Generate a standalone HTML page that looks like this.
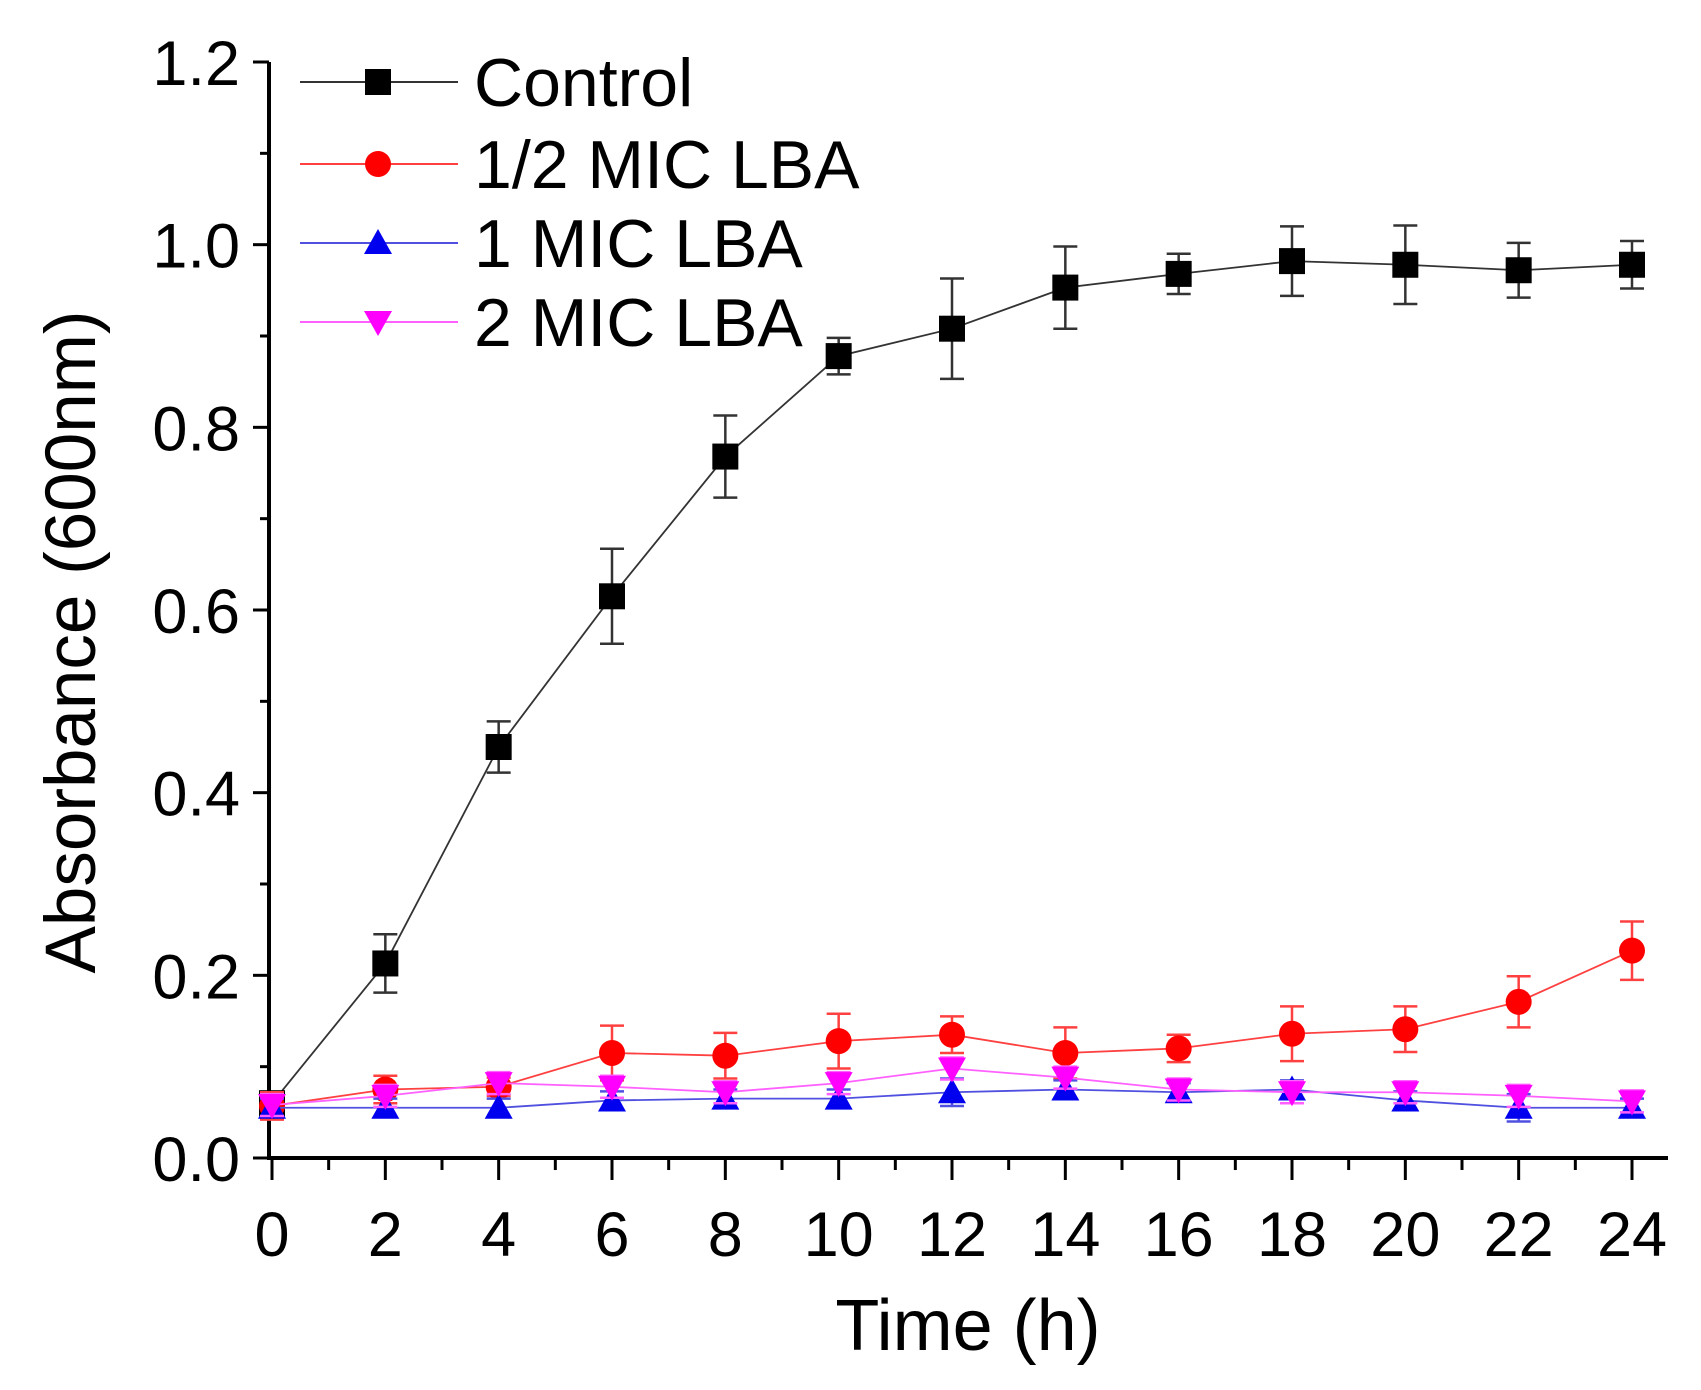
<!DOCTYPE html>
<html><head><meta charset="utf-8"><style>
html,body{margin:0;padding:0;background:#fff;}
svg{display:block;font-family:"Liberation Sans",Arial,sans-serif;}
</style></head><body>
<svg id="chart" width="1701" height="1390" viewBox="0 0 1701 1390">
<g id="axes"></g><g id="series"></g><g id="legend"></g>
<text x="968" y="1350" font-size="72" text-anchor="middle" fill="#000">Time (h)</text>
<text transform="translate(95,642) rotate(-90)" font-size="71" text-anchor="middle" fill="#000">Absorbance (600nm)</text>
</svg>
<script>
const times = [0,2,4,6,8,10,12,14,16,18,20,22,24];
const control = [0.06,0.213,0.45,0.615,0.768,0.878,0.908,0.953,0.968,0.982,0.978,0.972,0.978];
const controlErr = [0.01,0.032,0.028,0.052,0.045,0.02,0.055,0.045,0.022,0.038,0.043,0.03,0.026];
const halfMic = [0.057,0.075,0.078,0.115,0.112,0.128,0.135,0.115,0.12,0.136,0.141,0.171,0.227];
const halfMicErr = [0.015,0.015,0.01,0.03,0.025,0.03,0.02,0.028,0.015,0.03,0.025,0.028,0.032];
const oneMic = [0.055,0.055,0.055,0.063,0.065,0.065,0.072,0.075,0.072,0.075,0.063,0.055,0.055];
const oneMicErr = [0.01,0.01,0.01,0.01,0.01,0.01,0.015,0.01,0.01,0.01,0.01,0.015,0.01];
const twoMic = [0.058,0.068,0.082,0.078,0.072,0.082,0.098,0.088,0.075,0.072,0.072,0.068,0.062];
const twoMicErr = [0.012,0.012,0.012,0.012,0.012,0.012,0.012,0.012,0.012,0.012,0.012,0.012,0.012];
const xTicks = [0,2,4,6,8,10,12,14,16,18,20,22,24];
const yTicks = ["0.0","0.2","0.4","0.6","0.8","1.0","1.2"];
const legendLabels = ["Control","1/2 MIC LBA","1 MIC LBA","2 MIC LBA"];

const NS="http://www.w3.org/2000/svg";
const X0=272, X1=1632, Y0=1158, Y1=62;
const xs=v=>X0+(v/24)*(X1-X0);
const ys=v=>Y0-(v/1.2)*(Y0-Y1);
function mk(tag,attrs,parent){const e=document.createElementNS(NS,tag);for(const k in attrs)e.setAttribute(k,attrs[k]);parent.appendChild(e);return e;}
const axes=document.getElementById('axes'), ser=document.getElementById('series'), leg=document.getElementById('legend');

let a=mk('line',{x1:269,y1:Y1,x2:269,y2:Y0+2,stroke:'#000','stroke-width':4},axes);


a=mk('line',{x1:267,y1:Y0,x2:1668,y2:Y0,stroke:'#000','stroke-width':4},axes);


yTicks.forEach((t,i)=>{const v=parseFloat(t);const y=ys(v);
 mk('line',{x1:253,y1:y,x2:269,y2:y,stroke:'#000','stroke-width':3},axes);
 if(i<yTicks.length-1) mk('line',{x1:260,y1:ys(v+0.1),x2:269,y2:ys(v+0.1),stroke:'#000','stroke-width':3},axes);
 const tx=mk('text',{x:240,y:y+23,'font-size':63,'text-anchor':'end',fill:'#000'},axes);tx.textContent=t;
 
 
});
xTicks.forEach((t,i)=>{const x=xs(t);
 mk('line',{x1:x,y1:Y0,x2:x,y2:Y0+22,stroke:'#000','stroke-width':3},axes);
 if(i<xTicks.length-1) mk('line',{x1:xs(t+1),y1:Y0,x2:xs(t+1),y2:Y0+12,stroke:'#000','stroke-width':3},axes);
 const tx=mk('text',{x:x,y:1256,'font-size':63,'text-anchor':'middle',fill:'#000'},axes);tx.textContent=t;
 
 
});

function marker(type,x,y,color,parent){
 if(type==='sq') return mk('rect',{x:x-13,y:y-13,width:26,height:26,fill:color},parent);
 if(type==='ci') return mk('circle',{cx:x,cy:y,r:13,fill:color},parent);
 if(type==='up') return mk('polygon',{points:`${x},${y-14} ${x-14},${y+11} ${x+14},${y+11}`,fill:color},parent);
 return mk('polygon',{points:`${x},${y+14} ${x-14},${y-11} ${x+14},${y-11}`,fill:color},parent);
}
const seriesDefs=[
 {name:'control',vals:control,err:controlErr,color:'#000',line:'#333',type:'sq'},
 {name:'half-mic',vals:halfMic,err:halfMicErr,color:'#ff0000',line:'#ff4040',type:'ci'},
 {name:'one-mic',vals:oneMic,err:oneMicErr,color:'#0000ee',line:'#5050e0',type:'up'},
 {name:'two-mic',vals:twoMic,err:twoMicErr,color:'#ff00ff',line:'#ff60ff',type:'dn'}];
seriesDefs.forEach(s=>{
 const g=mk('g',{},ser);
 
 
 mk('polyline',{points:times.map((t,i)=>xs(t)+','+ys(s.vals[i])).join(' '),fill:'none',stroke:s.line,'stroke-width':1.8},g);
 times.forEach((t,i)=>{const x=xs(t),yt=ys(s.vals[i]+s.err[i]),yb=ys(s.vals[i]-s.err[i]);
  mk('line',{x1:x,y1:yt,x2:x,y2:yb,stroke:s.line,'stroke-width':2.5},g);
  mk('line',{x1:x-12,y1:yt,x2:x+12,y2:yt,stroke:s.line,'stroke-width':2.5},g);
  mk('line',{x1:x-12,y1:yb,x2:x+12,y2:yb,stroke:s.line,'stroke-width':2.5},g);
  const m=marker(s.type,x,ys(s.vals[i]),s.color,g);
  
  
 });
});
const rows=[82,164,243,322];
seriesDefs.forEach((s,i)=>{
 const g=mk('g',{},leg);
 
 
 mk('line',{x1:300,y1:rows[i],x2:458,y2:rows[i],stroke:s.line,'stroke-width':2},g);
 marker(s.type,378,rows[i],s.color,g);
 const tx=mk('text',{x:474,y:rows[i]+24,'font-size':68,fill:'#000'},g);tx.textContent=legendLabels[i];
});
</script>
</body></html>
